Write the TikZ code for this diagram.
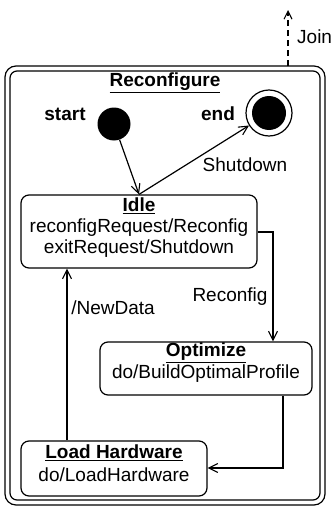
\documentclass[tikz,border=0pt]{standalone}
\usepackage{fontspec}
\setmainfont{Liberation Sans}
\usetikzlibrary{arrows.meta}
\tikzset{
  line/.style={line width=1.2pt},
  trans/.style={line, -{Straight Barb[length=9pt,width=9pt,line width=1.1pt]}},
  statebox/.style={line, draw, rounded corners=8pt, inner sep=0pt},
  txt/.style={inner sep=0pt, font=\fontsize{19}{21}\selectfont},
  title/.style={txt, font=\fontsize{19}{21}\selectfont\bfseries},
}
\newcommand{\stitle}[1]{\underline{#1}}
\begin{document}
\begin{tikzpicture}[x=1pt,y=-1pt]
\useasboundingbox (0,0) rectangle (333,514);
\fill[white] (0,0) rectangle (333,514);

% composite state frame (double border)
\draw[line, rounded corners=11pt] (5,66) rectangle (325,505);
\draw[line, rounded corners=7pt] (10,71) rectangle (320,500);
\coordinate (joinfoot) at (288,66);
\coordinate (jointip) at (288,10);
\draw[line, dashed, dash pattern=on 6pt off 4pt, -{Straight Barb[length=8pt,width=8pt,line width=1.1pt]}] (joinfoot) -- (jointip);
\node[txt, anchor=west] (joinlbl) at (297,37) {Join};
\node[title] (comptitle) at (165,83) {\stitle{Reconfigure}};

% pseudo states
\node[circle, fill=black, minimum size=33pt, inner sep=0pt] (start) at (114,124) {};
\node[title] (startlbl) at (65,114) {start};
\node[circle, draw, line, minimum size=46pt, inner sep=0pt] (end) at (269,113) {};
\node[circle, fill=black, minimum size=34pt, inner sep=0pt] (endcore) at (end) {};
\node[title] (endlbl) at (218,114) {end};

% simple states
\node[statebox, minimum width=236pt, minimum height=73pt] (idle) at (139,231.5) {};
\node[title] (idleT) at (139,206) {\stitle{Idle}};
\node[txt] (idle1) at (139,228) {reconfigRequest/Reconfig};
\node[txt] (idle2) at (139,249) {exitRequest/Shutdown};

\node[statebox, minimum width=212pt, minimum height=53pt] (opt) at (206,368.5) {};
\node[title] (optT) at (206,353) {\stitle{Optimize}};
\node[txt] (opt1) at (206,374) {do/BuildOptimalProfile};

\node[statebox, minimum width=186pt, minimum height=55pt] (load) at (114,468.5) {};
\node[title] (loadT) at (114,453) {\stitle{Load Hardware}};
\node[txt] (load1) at (114,475) {do/LoadHardware};

% transitions
\draw[trans] (start) -- (idle.north);
\draw[trans] (idle.north) -- (end);
\node[txt] (shutlbl) at (245,165) {Shutdown};
\draw[trans] (idle.east |- 0,232) -| (opt.north -| 273,0);
\node[txt] (reclbl) at (230,297) {Reconfig};
\draw[trans] (opt.south -| 283,0) |- (load.east |- 0,468);
\draw[trans] (load.north -| 67,0) -- (idle.south -| 67,0);
\node[txt] (newlbl) at (113,308) {/NewData};
\end{tikzpicture}
\end{document}
